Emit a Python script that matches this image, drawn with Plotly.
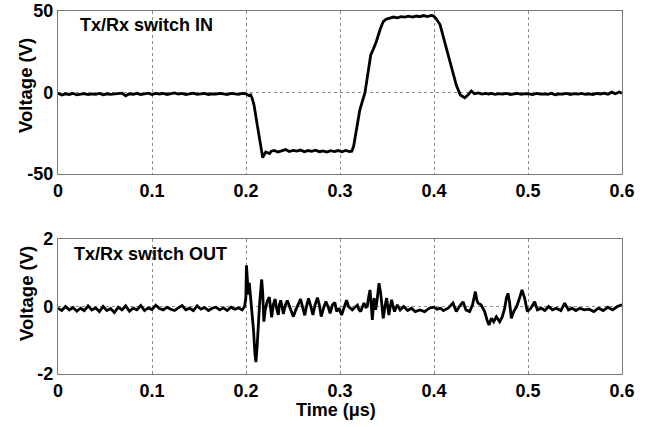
import plotly.graph_objects as go

# ---- Data: Tx/Rx switch IN (time in microseconds, voltage in V) ----
t_in = [0.000, 0.004, 0.008, 0.012, 0.016, 0.020, 0.024, 0.028, 0.032, 0.036,
        0.040, 0.044, 0.048, 0.052, 0.056, 0.060, 0.064, 0.068, 0.072, 0.076,
        0.080, 0.084, 0.088, 0.092, 0.096, 0.100, 0.104, 0.108, 0.112, 0.116,
        0.120, 0.124, 0.128, 0.132, 0.136, 0.140, 0.144, 0.148, 0.152, 0.156,
        0.160, 0.164, 0.168, 0.172, 0.176, 0.180, 0.184, 0.188, 0.192, 0.196,
        0.200, 0.203, 0.205, 0.2065, 0.2085, 0.212, 0.215, 0.2167, 0.2178, 0.219,
        0.221, 0.223, 0.225, 0.227, 0.230, 0.234, 0.238, 0.242, 0.246, 0.250,
        0.254, 0.258, 0.262, 0.266, 0.270, 0.274, 0.278, 0.282, 0.286, 0.290,
        0.294, 0.298, 0.302, 0.306, 0.310, 0.3125, 0.3145, 0.3177, 0.321, 0.3266,
        0.3327, 0.3354, 0.3385, 0.3426, 0.346, 0.349, 0.353, 0.357, 0.361, 0.365,
        0.369, 0.373, 0.377, 0.381, 0.385, 0.389, 0.393, 0.397, 0.3993, 0.402,
        0.4064, 0.417, 0.4237, 0.428, 0.4327, 0.436, 0.4397, 0.443, 0.447, 0.451,
        0.455, 0.458, 0.461, 0.465, 0.469, 0.473, 0.477, 0.481, 0.485, 0.489,
        0.493, 0.497, 0.501, 0.505, 0.509, 0.513, 0.517, 0.521, 0.525, 0.529,
        0.533, 0.537, 0.541, 0.545, 0.549, 0.553, 0.557, 0.561, 0.565, 0.569,
        0.573, 0.577, 0.581, 0.585, 0.589, 0.593, 0.597, 0.600]
v_in = [-0.5, -1.5, -0.8, -1.2, -0.6, -1.4, -1.0, -0.7, -1.3, -0.9,
        -1.1, -0.6, -1.4, -0.8, -1.2, -0.9, -1.0, -0.4, -2.0, -0.8,
        -1.1, -0.5, -1.3, -0.7, -0.4, -1.2, -0.6, -0.9, -0.5, -1.2,
        -0.8, -0.3, -1.0, -0.6, -1.3, -0.7, -0.4, -1.1, -0.9, -0.5,
        -1.2, -0.8, -1.0, -0.6, -0.9, -1.3, -0.6, -0.9, -1.1, -0.5,
        -0.8, -1.8, -1.5, -3.5, -7.6, -20.0, -31.0, -38.0, -40.0, -38.5,
        -36.5, -37.0, -37.5, -36.0, -35.5, -36.5, -35.8, -35.0, -36.2, -35.5,
        -36.0, -35.3, -36.4, -35.6, -36.1, -35.4, -36.3, -35.8, -36.5, -35.7,
        -36.2, -35.6, -36.4, -35.5, -36.3, -36.0, -33.0, -21.6, -11.0, 0.0,
        23.0, 26.5, 31.0, 38.5, 43.5, 45.0, 45.8, 46.3, 45.8, 46.5,
        46.2, 46.8, 46.3, 46.9, 46.5, 47.2, 46.6, 47.3, 47.0, 45.5,
        41.7, 18.0, 4.6, -1.5, -3.2, -1.5, 0.9, -0.8, -0.3, -1.0,
        -0.6, -0.9, -0.5, -1.1, -0.7, -1.0, -0.6, -1.2, -0.8, -0.5,
        -1.1, -0.7, -0.9, -1.3, -0.6, -1.0, -0.8, -1.1, -0.5, -1.4,
        -0.8, -1.0, -0.6, -1.2, -0.7, -1.0, -0.5, -1.1, -0.8, -1.2,
        -0.6, -0.9, -0.4, -1.1, 0.2, -0.8, 0.3, -0.5]

# ---- Data: Tx/Rx switch OUT ----
t_out = [0.000, 0.004, 0.008, 0.012, 0.016, 0.020, 0.024, 0.028, 0.032, 0.036,
         0.040, 0.044, 0.048, 0.052, 0.056, 0.060, 0.064, 0.068, 0.072, 0.076,
         0.080, 0.084, 0.088, 0.092, 0.096, 0.100, 0.104, 0.108, 0.112, 0.116,
         0.120, 0.124, 0.128, 0.132, 0.136, 0.140, 0.144, 0.148, 0.152, 0.156,
         0.160, 0.164, 0.168, 0.172, 0.176, 0.180, 0.184, 0.188, 0.192, 0.196,
         0.1985, 0.1998, 0.2005, 0.2015, 0.2025, 0.2035, 0.2045, 0.206, 0.208, 0.2095,
         0.2106, 0.2118, 0.213, 0.2145, 0.2160, 0.2167, 0.2178, 0.219, 0.2205, 0.2225,
         0.2248, 0.2262, 0.2273, 0.2290, 0.2309, 0.2325, 0.2344, 0.2355, 0.2369, 0.2382,
         0.2397, 0.2420, 0.2440, 0.2470, 0.2504, 0.2530, 0.2557, 0.2580, 0.2605, 0.2625,
         0.2645, 0.2665, 0.2690, 0.2712, 0.2735, 0.2760, 0.2780, 0.2800, 0.2825, 0.2850,
         0.2875, 0.2895, 0.2920, 0.2945, 0.2965, 0.2990, 0.3017, 0.3045, 0.3070, 0.3090,
         0.3106, 0.3130, 0.3160, 0.3185, 0.3200, 0.3220, 0.3240, 0.3255, 0.3275, 0.3290,
         0.3300, 0.3319, 0.3332, 0.3344, 0.3362, 0.3379, 0.3395, 0.3415, 0.3433, 0.3447,
         0.3460, 0.3478, 0.3496, 0.3510, 0.3520, 0.3535, 0.3549, 0.3565, 0.3580, 0.3610,
         0.3640, 0.3677, 0.3720, 0.3760, 0.3800, 0.3850, 0.3900, 0.3950, 0.4000, 0.4030,
         0.4070, 0.4100, 0.4150, 0.4202, 0.4237, 0.4270, 0.4309, 0.4340, 0.4379, 0.4410,
         0.4440, 0.4455, 0.4468, 0.4500, 0.4539, 0.4564, 0.4585, 0.4610, 0.4635, 0.4663,
         0.4699, 0.4727, 0.4752, 0.4770, 0.4787, 0.4805, 0.4823, 0.4848, 0.4880, 0.4910,
         0.4936, 0.4964, 0.4993, 0.5030, 0.5071, 0.5100, 0.5140, 0.5180, 0.5220, 0.5260,
         0.5300, 0.5350, 0.5390, 0.5430, 0.5470, 0.5510, 0.5550, 0.5600, 0.5650, 0.5700,
         0.5750, 0.5800, 0.5850, 0.5900, 0.5950, 0.6000]
v_out = [-0.05, -0.12, 0.00, -0.10, -0.03, -0.14, -0.05, -0.12, 0.02, -0.10,
         -0.04, -0.15, 0.00, -0.12, -0.06, -0.18, -0.02, -0.10, 0.02, -0.14,
         -0.05, -0.10, 0.03, -0.12, -0.04, -0.09, 0.04, -0.06, -0.10, -0.02,
         -0.08, -0.12, -0.04, 0.03, -0.10, -0.05, -0.12, 0.02, -0.08, -0.03,
         -0.12, -0.05, -0.02, -0.10, -0.04, -0.12, -0.02, -0.08, -0.04, -0.10,
         0.00, 0.25, 1.22, 0.90, 0.35, 0.70, 0.40, 0.05, -0.70, -1.40,
         -1.65, -1.20, -0.50, 0.10, 0.60, 0.80, 0.40, -0.45, -0.10, 0.15,
         0.28, -0.05, -0.32, 0.05, 0.22, -0.05, -0.25, 0.05, 0.18, 0.02,
         -0.22, 0.05, 0.18, -0.05, -0.30, -0.10, 0.10, 0.22, -0.05, -0.26,
         0.02, 0.24, 0.00, -0.25, 0.05, 0.26, 0.05, -0.30, -0.05, 0.15,
         -0.02, -0.20, 0.05, 0.12, -0.15, -0.05, -0.25, 0.02, 0.19, 0.00,
         -0.05, -0.10, -0.02, 0.04, -0.08, -0.15, 0.00, 0.10, -0.02, 0.00,
         0.20, 0.49, 0.05, -0.40, 0.25, -0.10, 0.20, 0.69, 0.39, 0.00,
         -0.35, 0.00, 0.25, -0.05, -0.25, 0.00, 0.20, 0.00, -0.15, 0.05,
         -0.10, 0.00, -0.12, -0.05, -0.15, -0.10, -0.15, -0.05, -0.02, -0.08,
         -0.05, -0.12, -0.05, 0.10, -0.15, 0.00, 0.14, -0.10, -0.15, 0.05,
         0.44, 0.20, 0.10, 0.05, -0.15, -0.40, -0.55, -0.35, -0.45, -0.30,
         -0.45, -0.30, -0.05, 0.25, 0.39, 0.10, -0.35, -0.15, 0.00, 0.25,
         0.49, 0.25, -0.15, -0.05, 0.14, -0.10, -0.05, -0.12, 0.00, -0.10,
         -0.05, -0.12, 0.10, -0.10, -0.05, -0.12, -0.05, -0.10, -0.08, -0.15,
         -0.05, -0.12, -0.02, -0.10, 0.00, 0.05]

x_ticks = [0, 0.1, 0.2, 0.3, 0.4, 0.5, 0.6]
x_tick_labels = ["0", "0.1", "0.2", "0.3", "0.4", "0.5", "0.6"]
y1_ticks = [-50, 0, 50]
y1_tick_labels = ["-50", "0", "50"]
y2_ticks = [-2, 0, 2]
y2_tick_labels = ["-2", "0", "2"]

FONT = "Liberation Sans, Arial, sans-serif"
tickfont = dict(family=FONT, size=18, color="black", weight="bold")
frame = "#7a7a7a"
grid = "#8c8c8c"

fig = go.Figure()
fig.add_trace(go.Scatter(x=t_in, y=v_in, mode="lines",
                         line=dict(color="black", width=2.8),
                         xaxis="x", yaxis="y", showlegend=False, hoverinfo="skip"))
fig.add_trace(go.Scatter(x=t_out, y=v_out, mode="lines",
                         line=dict(color="black", width=2.8),
                         xaxis="x2", yaxis="y2", showlegend=False, hoverinfo="skip"))

xcommon = dict(range=[0, 0.6], tickmode="array", tickvals=x_ticks, ticktext=x_tick_labels,
               showgrid=True, gridcolor=grid, griddash="dot", gridwidth=1,
               showline=True, mirror=True, linecolor=frame, linewidth=1.2,
               zeroline=False, ticks="", tickfont=tickfont, automargin=False,
               ticklabeloverflow="allow")
ycommon = dict(tickmode="array", showgrid=True, gridcolor=grid, griddash="dot", gridwidth=1,
               showline=True, mirror=True, linecolor=frame, linewidth=1.2,
               zeroline=False, ticks="", tickfont=tickfont, automargin=False,
               ticklabeloverflow="allow")

W, H = 658, 427
L, R, T, B = 58, 36, 11, 53
pw = W - L - R
ph = H - T - B

fig.update_layout(
    width=W, height=H,
    margin=dict(l=L, r=R, t=T, b=B, pad=0, autoexpand=False),
    paper_bgcolor="white", plot_bgcolor="white",
    xaxis=dict(domain=[0, 1], anchor="y", **xcommon),
    yaxis=dict(domain=[(374 - 174) / ph, 1], anchor="x", range=[-50, 50],
               tickvals=y1_ticks, ticktext=y1_tick_labels, **ycommon),
    xaxis2=dict(domain=[0, 1], anchor="y2", **xcommon),
    yaxis2=dict(domain=[0, (374 - 239) / ph], anchor="x2", range=[-2, 2],
                tickvals=y2_ticks, ticktext=y2_tick_labels, **ycommon),
)

def px_x(px):
    return (px - L) / pw

def px_y(py):
    return (H - B - py) / ph

annots = [
    dict(text="Tx/Rx switch IN", x=px_x(78), y=px_y(25), xanchor="left", yanchor="middle",
         font=dict(family=FONT, size=18, color="black", weight="bold")),
    dict(text="Tx/Rx switch OUT", x=px_x(72), y=px_y(254), xanchor="left", yanchor="middle",
         font=dict(family=FONT, size=18, color="black", weight="bold")),
    dict(text="Voltage (V)", x=px_x(26), y=px_y(86), xanchor="center", yanchor="middle",
         textangle=-90, font=dict(family=FONT, size=18.5, color="black", weight="bold")),
    dict(text="Voltage (V)", x=px_x(26), y=px_y(294), xanchor="center", yanchor="middle",
         textangle=-90, font=dict(family=FONT, size=18.5, color="black", weight="bold")),
    dict(text="Time (\u03bcs)", x=px_x(336), y=px_y(410), xanchor="center", yanchor="middle",
         font=dict(family=FONT, size=18, color="black", weight="bold")),
]
for a in annots:
    a.update(xref="paper", yref="paper", showarrow=False)
fig.update_layout(annotations=annots)

# remove the default page margin so the figure sits at the window's origin
fig.write_html("out.html", config={"displayModeBar": False, "staticPlot": True},
               post_script="document.body.style.margin='0';")
